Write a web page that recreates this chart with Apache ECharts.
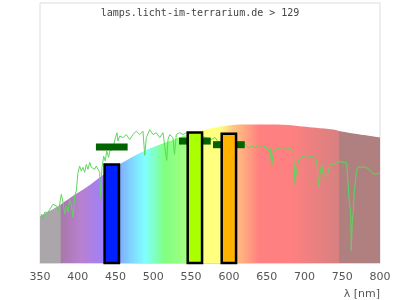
<!DOCTYPE html>
<html>
<head>
<meta charset="utf-8">
<script src="https://cdn.jsdelivr.net/npm/echarts@6/dist/echarts.min.js"></script>
<style>html,body{margin:0;padding:0;background:#fff}#c{width:400px;height:300px}</style>
</head>
<body>
<div id="c"></div>
<script>
// ---- data ----
const titleText = 'lamps.licht-im-terrarium.de > 129';
const axisName = 'λ [nm]';
const xTicks = [350, 400, 450, 500, 550, 600, 650, 700, 750, 800];

// visible-spectrum envelope (wavelength nm, relative value)
const envLambda = [350, 373.8, 391, 413.5, 429.4, 457.2, 483.7, 502.2, 519.4, 537.9, 555.1, 575, 588.2, 614.7, 647.8, 678.2, 698.1, 715.3, 737.8, 747.1, 773.5, 800];
const envValue  = [18.0, 21.8, 25.3, 29.5, 33.0, 38.3, 42.5, 44.8, 46.7, 48.7, 50.2, 51.7, 52.5, 53.3, 53.3, 53.1, 52.5, 52.0, 51.3, 50.7, 49.4, 48.3];

// sunlight reference curve (green line)
const sunLambda = [351.7,354.0,356.2,360.6,367.2,371.6,374.7,378.2,380.4,382.7,384.8,387.1,389.3,391.4,393.7,395.9,398.0,400.3,402.5,404.7,406.9,409.2,411.3,413.5,415.8,417.9,420.1,422.4,424.5,426.8,429.0,430.3,432.1,434.3,436.4,438.3,440.9,442.2,446.6,449.7,451.9,453.2,455.5,459.9,464.2,468.7,473.1,477.5,482.0,486.3,488.6,490.7,495.2,499.6,503.9,508.4,512.8,515.4,517.7,519.4,521.7,526.0,528.0,530.4,534.9,539.3,543.6,555.1,568.4,577.2,581.6,585.6,598.8,614.7,621.3,625.7,630.2,634.6,638.9,643.4,647.8,650.0,652.2,654.4,656.7,658.8,663.3,667.6,669.9,674.3,680.9,685.3,687.5,689.8,691.9,696.4,698.5,703.0,707.4,711.7,716.2,718.3,719.7,720.6,722.8,725.0,727.2,729.4,731.6,733.8,738.2,740.4,742.7,747.1,751.4,755.9,758.0,759.4,761.2,762.0,763.3,764.7,766.0,769.2,771.3,777.9,784.5,789.0,793.4,797.8,800.0];
const sunValue  = [18.8,16.9,19.5,19.5,22.6,22.0,20.0,26.4,23.4,18.8,22.0,19.5,24.5,22.6,17.6,25.8,27.7,34.8,37.3,35.4,36.8,34.9,37.9,36.0,38.7,36.8,37.3,36.0,37.3,36.8,34.9,25.3,36.8,41.1,39.2,43.0,40.6,43.0,43.7,48.2,50.1,46.9,48.8,48.2,49.4,47.5,49.4,50.7,49.4,50.7,41.4,48.2,51.3,49.4,50.1,48.2,50.1,44.4,39.5,47.5,49.4,48.2,41.8,49.4,50.1,49.4,50.1,49.8,48.3,47.5,48.3,46.7,46.4,46.0,45.9,44.3,44.9,44.3,45.3,44.3,44.9,44.9,43.0,44.3,37.3,43.0,43.9,44.3,44.9,44.3,44.1,43.3,30.3,36.0,39.2,41.1,41.8,40.5,41.1,40.7,39.8,31.5,29.0,34.1,37.9,34.1,34.8,33.4,34.8,38.2,37.9,37.3,38.6,39.0,38.6,38.6,37.9,23.3,20.0,4.7,16.2,20.0,27.7,36.0,36.9,36.9,36.4,34.8,34.1,34.4,34.8];

// lamp peaks (bars) and reference marks
const barCenter = [445, 555, 600];
const barValue  = [37.9, 50.2, 49.7];
const markCenter = [445, 555, 600];
const markValue  = [44.6, 46.9, 45.5];

// ---- rendering ----
const BAR_W = 19;      // nm
const MARK_W = 42;     // nm
const MARK_H = 7;      // px
const barColors = ['#0020ff', '#aaff00', '#ffb300'];

const stops = [
  [350,'#aaa6aa'],[377,'#aaa6aa'],[377.5,'#a878a8'],[404,'#b880d0'],[433,'#a080f8'],
  [457,'#80b0ff'],[475,'#80e0ff'],[489,'#80ffff'],[506,'#80ffb0'],[515,'#80ff80'],
  [541,'#a0ff80'],[556,'#d0ff80'],[566,'#ffff80'],[588,'#ffff80'],[605,'#ffc880'],
  [625,'#ffa080'],[640,'#ff8080'],[681,'#ff8080'],[745.5,'#d88080'],[746,'#b08080'],[800,'#b08080']
].map(s => ({offset: (s[0]-350)/450, color: s[1]}));

const chart = echarts.init(document.getElementById('c'), null, {renderer: 'canvas'});

chart.setOption({
  animation: false,
  title: {
    text: titleText, left: 'center', top: 3,
    textStyle: {fontFamily: 'DejaVu Sans Mono', fontSize: 10, fontWeight: 'normal', color: '#444'}
  },
  grid: {left: 40, right: 20, top: 3, bottom: 36, show: true, borderColor: '#dcdcdc', borderWidth: 1},
  xAxis: {
    type: 'value', min: 350, max: 800, interval: 50,
    axisLine: {show: true, lineStyle: {color: '#dcdcdc'}},
    axisTick: {show: false}, splitLine: {show: false},
    axisLabel: {color: '#555', fontSize: 11, fontFamily: 'DejaVu Sans', margin: 9,
      formatter: v => xTicks.includes(v) ? String(v) : ''},
    name: axisName, nameLocation: 'end', nameGap: 0,
    nameTextStyle: {color: '#555', fontSize: 11, fontFamily: 'DejaVu Sans', align: 'right', verticalAlign: 'top', padding: [26, 0, 0, 0]}
  },
  yAxis: {type: 'value', min: 0, max: 100, show: false},
  series: [
    {
      type: 'line', z: 1, smooth: 0.3, showSymbol: false, silent: true,
      data: envLambda.map((l, i) => [l, envValue[i]]),
      lineStyle: {width: 0, opacity: 0},
      areaStyle: {opacity: 1, color: new echarts.graphic.LinearGradient(0, 0, 1, 0, stops)}
    },
    {
      type: 'line', z: 2, showSymbol: false, silent: true,
      data: sunLambda.map((l, i) => [l, sunValue[i]]),
      lineStyle: {width: 1, color: '#5cd65c'}
    },
    {
      type: 'custom', z: 3, silent: true,
      data: markCenter.map((c, i) => [c, markValue[i]]),
      renderItem: (params, api) => {
        const c = api.value(0), v = api.value(1);
        const p0 = api.coord([c - MARK_W/2, v]);
        const p1 = api.coord([c + MARK_W/2, v]);
        return {type: 'rect', shape: {x: p0[0], y: p0[1] - MARK_H/2, width: p1[0]-p0[0], height: MARK_H},
          style: {fill: '#006400'}};
      }
    },
    {
      type: 'custom', z: 4, silent: true,
      data: barCenter.map((c, i) => [c, barValue[i], i]),
      renderItem: (params, api) => {
        const c = api.value(0), v = api.value(1), k = api.value(2);
        const p0 = api.coord([c - BAR_W/2, v]);
        const p1 = api.coord([c + BAR_W/2, 0]);
        return {type: 'rect', shape: {x: p0[0], y: p0[1], width: p1[0]-p0[0], height: p1[1]-p0[1]},
          style: {fill: barColors[k], stroke: '#000', lineWidth: 2.5}};
      }
    }
  ]
});
</script>
</body>
</html>
